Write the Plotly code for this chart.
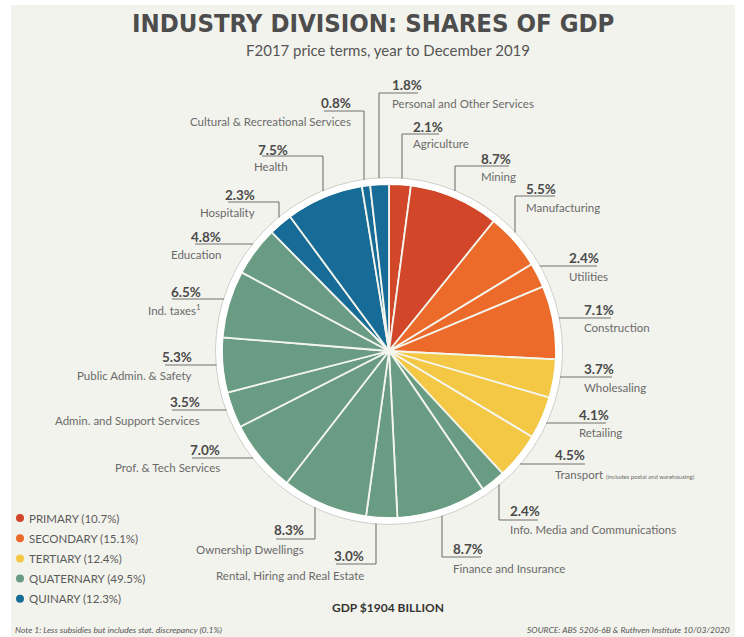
import math
import plotly.graph_objects as go

# ---- data -------------------------------------------------------------
industries = [
    "Agriculture", "Mining", "Manufacturing", "Utilities", "Construction",
    "Wholesaling", "Retailing", "Transport", "Info. Media and Communications",
    "Finance and Insurance", "Rental, Hiring and Real Estate", "Ownership Dwellings",
    "Prof. & Tech Services", "Admin. and Support Services", "Public Admin. & Safety",
    "Ind. taxes", "Education", "Hospitality", "Health",
    "Cultural & Recreational Services", "Personal and Other Services",
]
shares = [2.1, 8.7, 5.5, 2.4, 7.1, 3.7, 4.1, 4.5, 2.4, 8.7, 3.0, 8.3,
          7.0, 3.5, 5.3, 6.5, 4.8, 2.3, 7.5, 0.8, 1.8]
sector_of = ["PRIMARY", "PRIMARY", "SECONDARY", "SECONDARY", "SECONDARY",
             "TERTIARY", "TERTIARY", "TERTIARY", "QUATERNARY", "QUATERNARY",
             "QUATERNARY", "QUATERNARY", "QUATERNARY", "QUATERNARY", "QUATERNARY",
             "QUATERNARY", "QUATERNARY", "QUINARY", "QUINARY", "QUINARY", "QUINARY"]

sectors = ["PRIMARY", "SECONDARY", "TERTIARY", "QUATERNARY", "QUINARY"]
sector_shares = [10.7, 15.1, 12.4, 49.5, 12.3]
sector_colors = ["#d2462a", "#ec6a2a", "#f4c845", "#6a9c83", "#166c96"]

gdp_billion = 1904

# display names (markup for the small print)
display_names = list(industries)
display_names[7] = "Transport <span style='font-size:6px'>(includes postal and warehousing)</span>"
display_names[15] = "Ind. taxes<sup>1</sup>"

# ---- layout helpers ---------------------------------------------------
W, H = 744, 637
CX, CY = 389, 351          # pie centre (px)
R_PIE = 167                # coloured radius (px)
R_RIM = 173                # outer edge of white rim (px)

BG = "#f3f3ed"
LINE = "#707070"
PCT_COLOR = "#4a4a4a"
NAME_COLOR = "#6a6a6a"
FONT = "Lato, 'Open Sans', sans-serif"

# label placement: align, text x, pct y, name y, underline y, far end x, elbow x (None = horizontal run to rim)
label_pos = [
    ("left", 411, 127, 143, 134, 439, 402),
    ("left", 479, 159, 176, 166, 509, 455),
    ("left", 524, 189, 207, 196, 555, 515),
    ("left", 567, 258, 276, 266, 597, None),
    ("left", 582, 310, 327, 318, 611, None),
    ("left", 582, 369, 387, 377, 612, None),
    ("left", 577, 415, 432, 423, 606, None),
    ("left", 553, 455, 474, 464, 585, None),
    ("left", 508, 511, 529, 520, 538, 499),
    ("left", 451, 549, 568, 557, 481, 442),
    ("right", 366, 556, 575, 564, 336, 376),
    ("right", 306, 530, 549, 539, 276, 315),
    ("right", 222, 450, 467, 458, 192, None),
    ("right", 202, 402, 420, 410, 172, None),
    ("right", 194, 357, 375, 365, 165, None),
    ("right", 203, 292, 309, 299, 172, None),
    ("right", 223, 237, 254, 244, 195, None),
    ("right", 257, 195, 212, 202, 228, 279),
    ("right", 290, 150, 166, 156, 262, 323),
    ("right", 353, 103, 121, 111, 324, 364),
    ("left", 390, 85, 103, 93, 418, 379),
]

color_map = dict(zip(sectors, sector_colors))
slice_colors = [color_map[s] for s in sector_of]

fig = go.Figure()

# pie, starting at 12 o'clock and running clockwise
fig.add_trace(go.Pie(
    labels=industries,
    values=shares,
    sort=False,
    direction="clockwise",
    rotation=0,
    textinfo="none",
    hoverinfo="label+percent",
    marker=dict(colors=slice_colors, line=dict(color="#f4f6ee", width=1.8)),
    domain=dict(x=[(CX - R_PIE) / W, (CX + R_PIE) / W],
                y=[(H - CY - R_PIE) / H, (H - CY + R_PIE) / H]),
    showlegend=False,
))

# sector key: coloured dots
key_y0, key_dy = 518, 20.2
fig.add_trace(go.Scatter(
    x=[20] * len(sectors),
    y=[key_y0 + i * key_dy for i in range(len(sectors))],
    mode="markers",
    marker=dict(size=8, color=sector_colors),
    hoverinfo="skip",
    showlegend=False,
))

shapes = []
annotations = []

# page background panel
shapes.append(dict(type="rect", xref="x", yref="y", x0=11, x1=735, y0=5, y1=H,
                   fillcolor=BG, line=dict(width=0), layer="below"))

# white rim and faint outline around the pie
shapes.append(dict(type="circle", xref="x", yref="y",
                   x0=CX - (R_PIE + R_RIM) / 2, x1=CX + (R_PIE + R_RIM) / 2,
                   y0=CY - (R_PIE + R_RIM) / 2, y1=CY + (R_PIE + R_RIM) / 2,
                   line=dict(color="#ffffff", width=R_RIM - R_PIE + 1)))
shapes.append(dict(type="circle", xref="x", yref="y",
                   x0=CX - R_RIM - 0.5, x1=CX + R_RIM + 0.5,
                   y0=CY - R_RIM - 0.5, y1=CY + R_RIM + 0.5,
                   line=dict(color="#cfcfca", width=1)))


def rim_y(x, below):
    d = math.sqrt(max(R_RIM ** 2 - (x - CX) ** 2, 0))
    return CY + d if below else CY - d


def rim_x(y, right):
    d = math.sqrt(max(R_RIM ** 2 - (y - CY) ** 2, 0))
    return CX + d if right else CX - d


for name, val, (align, tx, py, ny, ly, far_x, elbow) in zip(display_names, shares, label_pos):
    # leader line
    if elbow is None:
        near = rim_x(ly, right=(align == "left"))
        shapes.append(dict(type="line", xref="x", yref="y", x0=near, x1=far_x, y0=ly, y1=ly,
                           line=dict(color=LINE, width=1.1)))
    else:
        shapes.append(dict(type="line", xref="x", yref="y", x0=elbow, x1=far_x, y0=ly, y1=ly,
                           line=dict(color=LINE, width=1.1)))
        shapes.append(dict(type="line", xref="x", yref="y", x0=elbow, x1=elbow,
                           y0=ly, y1=rim_y(elbow, below=(ly > CY)),
                           line=dict(color=LINE, width=1.1)))
    # value and name
    annotations.append(dict(x=tx, y=py, xref="x", yref="y", text=f"<b>{val:.1f}%</b>",
                            showarrow=False, xanchor=align, yanchor="middle",
                            font=dict(family=FONT, size=13.5, color=PCT_COLOR)))
    annotations.append(dict(x=tx, y=ny, xref="x", yref="y", text=name,
                            showarrow=False, xanchor=align, yanchor="middle",
                            font=dict(family=FONT, size=11.5, color=NAME_COLOR)))

# sector key text
for i, (s, v) in enumerate(zip(sectors, sector_shares)):
    annotations.append(dict(x=27, y=key_y0 + i * key_dy, xref="x", yref="y",
                            text=f"{s} ({v:.1f}%)", showarrow=False,
                            xanchor="left", yanchor="middle",
                            font=dict(family=FONT, size=11.5, color="#5a5a5a")))

# titles and notes
annotations += [
    dict(x=373, y=23, xref="x", yref="y", text="<b>INDUSTRY DIVISION: SHARES OF GDP</b>",
         showarrow=False, xanchor="center", yanchor="middle",
         font=dict(family="'DejaVu Sans Condensed', 'Liberation Sans Narrow', sans-serif",
                   size=25.5, color="#4d4d4d")),
    dict(x=388, y=50, xref="x", yref="y", text="F2017 price terms, year to December 2019",
         showarrow=False, xanchor="center", yanchor="middle",
         font=dict(family=FONT, size=15, color="#555555")),
    dict(x=388, y=607, xref="x", yref="y", text=f"<b>GDP ${gdp_billion} BILLION</b>",
         showarrow=False, xanchor="center", yanchor="middle",
         font=dict(family=FONT, size=12, color="#333333")),
    dict(x=13, y=630, xref="x", yref="y",
         text="<i>Note 1: Less subsidies but includes stat. discrepancy (0.1%)</i>",
         showarrow=False, xanchor="left", yanchor="middle",
         font=dict(family=FONT, size=8.5, color="#555555")),
    dict(x=732, y=630, xref="x", yref="y",
         text="<i>SOURCE: ABS 5206-6B & Ruthven Institute 10/03/2020</i>",
         showarrow=False, xanchor="right", yanchor="middle",
         font=dict(family=FONT, size=8.5, color="#555555")),
]

fig.update_layout(
    width=W, height=H,
    margin=dict(l=0, r=0, t=0, b=0),
    paper_bgcolor="#ffffff",
    plot_bgcolor="rgba(0,0,0,0)",
    xaxis=dict(range=[0, W], visible=False, fixedrange=True, domain=[0, 1]),
    yaxis=dict(range=[H, 0], visible=False, fixedrange=True, domain=[0, 1]),
    shapes=shapes,
    annotations=annotations,
    showlegend=False,
)

fig.write_html("out.html")
